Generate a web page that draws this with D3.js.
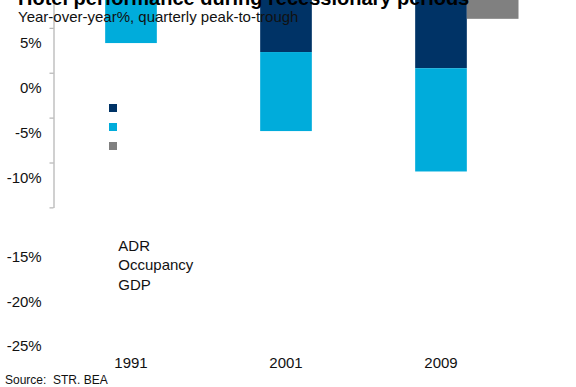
<!DOCTYPE html>
<html>
<head>
<meta charset="utf-8">
<script src="https://cdn.jsdelivr.net/npm/d3@7"></script>
<style>
  html, body { margin: 0; padding: 0; background: #fff; }
  svg { display: block; font-family: "Liberation Sans", Arial, sans-serif; }
  text { white-space: pre; }
</style>
</head>
<body>
<svg id="chart" width="576" height="387"></svg>
<script>
// Peak-to-trough year-over-year change, % (quarterly)
const categories = ["1991", "2001", "2009"];
const adr = [-1.2, -7.7, -9.5];
const occupancy = [-5.5, -8.8, -11.5];
const gdp = [-1.4, 0.4, -4.0];
const seriesNames = ["ADR", "Occupancy", "GDP"];
const tickValues = [5, 0, -5, -10, -15, -20, -25];
const tickLabels = ["5%", "0%", "-5%", "-10%", "-15%", "-20%", "-25%"];

const colors = { ADR: "#003366", Occupancy: "#00ACDB", GDP: "#808080" };

const svg = d3.select("#chart");
const plot = { left: 53.5, right: 518.5, top: -62, bottom: 207.4 };

const x = d3.scaleBand().domain(categories).range([plot.left, plot.right]).padding(0);
// each period holds three slots; the hotel stack sits in the middle, GDP on the right
const slot = d3.scaleBand().domain(["hotel", "gdp"]).range([x.bandwidth() / 3, x.bandwidth()]);
const y = d3.scaleLinear().domain([5, -25]).range([plot.top, plot.bottom]);

const rows = categories.map((c, i) => ({ category: c, ADR: adr[i], Occupancy: occupancy[i], GDP: gdp[i] }));
const layers = d3.stack().keys(["ADR", "Occupancy"]).offset(d3.stackOffsetDiverging)(rows);

const bars = svg.append("g");
bars.selectAll("g.layer")
  .data(layers)
  .join("g")
  .attr("class", "layer")
  .attr("fill", d => colors[d.key])
  .selectAll("rect")
  .data(d => d)
  .join("rect")
  .attr("x", d => x(d.data.category) + slot("hotel"))
  .attr("width", slot.bandwidth())
  .attr("y", d => Math.min(y(d[0]), y(d[1])))
  .attr("height", d => Math.abs(y(d[0]) - y(d[1])));

bars.append("g")
  .attr("fill", colors.GDP)
  .selectAll("rect")
  .data(rows)
  .join("rect")
  .attr("x", d => x(d.category) + slot("gdp"))
  .attr("width", slot.bandwidth())
  .attr("y", d => Math.min(y(0), y(d.GDP)))
  .attr("height", d => Math.abs(y(0) - y(d.GDP)));

// value axis
const axis = svg.append("g")
  .attr("transform", `translate(${plot.left},0)`)
  .call(d3.axisLeft(y).tickValues(tickValues).tickFormat("").tickSizeInner(4).tickSizeOuter(0));
axis.select(".domain").attr("stroke", "#c0c0c0").attr("stroke-width", 1.5);
axis.selectAll(".tick line").attr("stroke", "#a6a6a6").attr("stroke-width", 1);

// tick labels
const labelShift = v => (v > -12.5 ? 110 : 144);
svg.append("g")
  .selectAll("text")
  .data(tickValues)
  .join("text")
  .attr("x", 41.7)
  .attr("y", v => y(v) + labelShift(v))
  .attr("text-anchor", "end")
  .attr("font-size", 15)
  .attr("fill", "#111")
  .text((v, i) => tickLabels[i]);

// category labels
svg.append("g")
  .selectAll("text")
  .data(categories)
  .join("text")
  .attr("x", d => x(d) + x.bandwidth() / 2)
  .attr("y", 368)
  .attr("text-anchor", "middle")
  .attr("font-size", 15)
  .attr("fill", "#111")
  .text(d => d);

// legend
const legend = svg.append("g");
legend.selectAll("rect")
  .data(seriesNames)
  .join("rect")
  .attr("x", 109)
  .attr("y", (d, i) => 104 + i * 19)
  .attr("width", 8)
  .attr("height", 8)
  .attr("fill", d => colors[d]);
legend.selectAll("text")
  .data(seriesNames)
  .join("text")
  .attr("x", 118.3)
  .attr("y", (d, i) => 251 + i * 19.3)
  .attr("font-size", 15)
  .attr("fill", "#111")
  .text(d => d);

// titles and source
svg.append("text")
  .attr("x", 18).attr("y", 4.5)
  .attr("font-size", 20).attr("font-weight", "bold").attr("fill", "#000")
  .text("Hotel performance during recessionary periods");
svg.append("text")
  .attr("x", 18).attr("y", 21.5)
  .attr("font-size", 15).attr("fill", "#111")
  .text("Year-over-year%, quarterly peak-to-trough");
svg.append("text")
  .attr("x", 5).attr("y", 383.5)
  .attr("font-size", 12).attr("fill", "#111")
  .text("Source:  STR. BEA");
</script>
</body>
</html>
